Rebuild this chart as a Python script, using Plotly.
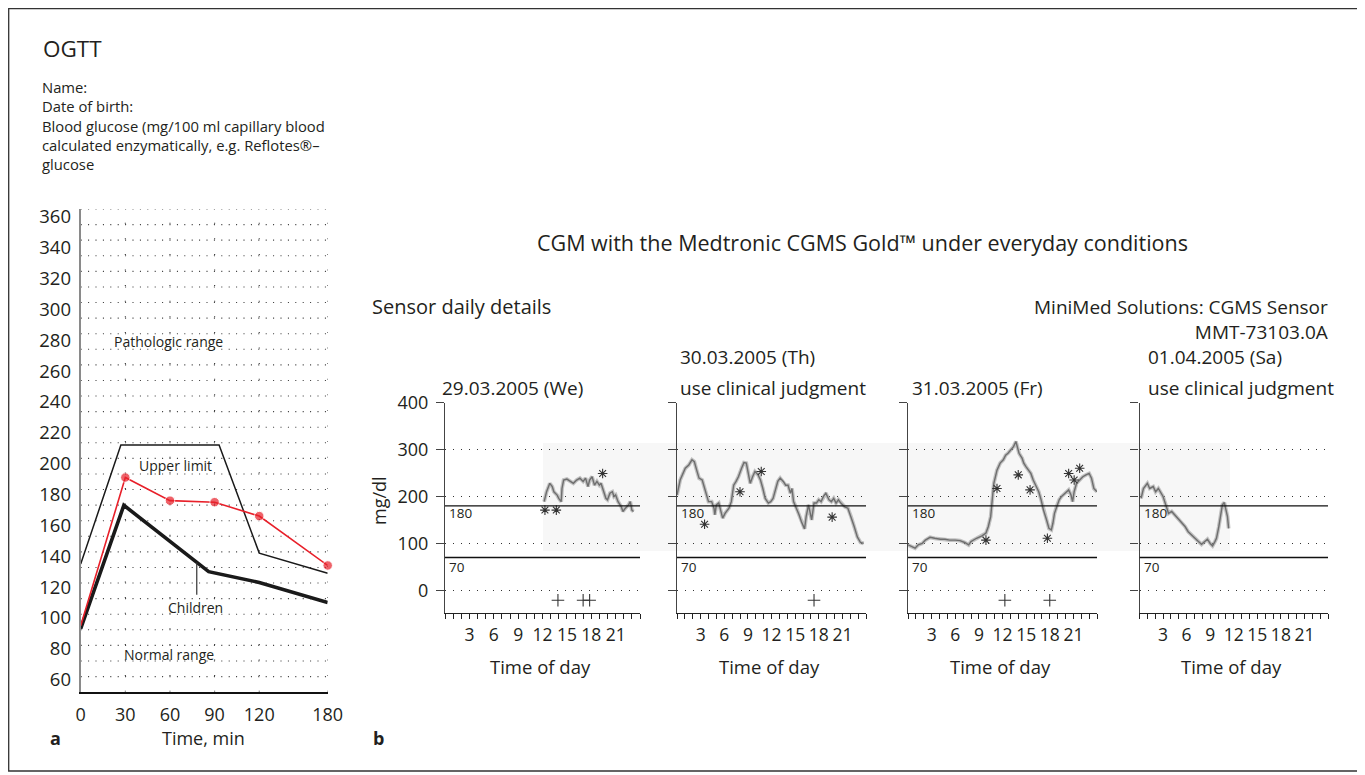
import plotly.graph_objects as go

W, H = 1365, 775
OFF = 8  # page body margin of the rendered html; layout positions compensate for it
FONT = "Open Sans"
TXT = "#231f20"

# ---------------- OGTT (panel a) data ----------------
ogtt_ticks = [0, 30, 60, 90, 120, 180]
glucose_ticks = list(range(60, 361, 20))
patient_time = [0, 30, 60, 90, 120, 180]
patient_glucose = [95, 191, 176, 175, 166, 134]
patient_marker = [0, 9.5, 9.5, 9.5, 9.5, 9.5]
children_time = [0, 29, 86, 120, 180]
children_glucose = [93, 173, 130, 123, 110]
upper_time = [0, 27, 93, 120, 180]
upper_glucose = [135, 212, 212, 142, 129]
pointer_time = [78, 78]
pointer_glucose = [136, 115]

# ---------------- CGM (panel b) data ----------------
day_titles = [["29.03.2005 (We)"],
              ["30.03.2005 (Th)", "use clinical judgment"],
              ["31.03.2005 (Fr)"],
              ["01.04.2005 (Sa)", "use clinical judgment"]]
hour_ticks = [3, 6, 9, 12, 15, 18, 21]
cgm_ticks = [0, 100, 200, 300, 400]
limits = [180, 70]

day1_h = [12.2, 12.5, 12.9, 13.2, 13.4, 13.8, 14.0, 14.3, 14.4, 14.6, 15.0, 15.4, 15.8, 16.2,
          16.6, 17.0, 17.3, 17.6, 17.8, 18.1, 18.4, 18.7, 19.0, 19.2, 19.5, 19.8, 20.0, 20.3,
          20.6, 20.8, 21.0, 21.3, 21.7, 21.9, 22.2, 22.6, 22.8, 23.0, 23.2]
day1_g = [189, 210, 228, 221, 210, 203, 196, 189, 217, 235, 237, 232, 228, 235,
          239, 232, 239, 221, 235, 242, 224, 232, 224, 228, 210, 196, 193, 207,
          210, 200, 203, 189, 178, 168, 175, 182, 189, 171, 168]

day2_h = [0.0, 0.4, 1.05, 1.5, 1.9, 2.2, 2.5, 2.8, 3.2, 3.4, 3.7, 4.0, 4.4, 4.7, 4.8, 5.0,
          5.3, 5.6, 5.8, 6.1, 6.6, 6.9, 7.2, 7.5, 7.8, 8.2, 8.5, 8.8, 9.1, 9.3, 9.6, 9.9,
          10.3, 10.6, 10.9, 11.2, 11.6, 11.9, 12.2, 12.5, 12.8, 13.1, 13.5, 13.8, 14.1,
          14.4, 14.6, 14.8, 15.1, 15.5, 15.8, 16.2, 16.4, 16.7, 17.1, 17.4, 17.7, 18.0,
          18.3, 18.6, 18.9, 19.3, 19.6, 19.9, 20.2, 20.5, 20.8, 21.1, 21.3, 21.7, 22.1,
          22.5, 22.9, 23.3, 23.7]
day2_g = [203, 235, 260, 267, 278, 274, 256, 239, 235, 224, 207, 189, 189, 175, 161, 182,
          186, 168, 154, 164, 175, 189, 224, 232, 242, 260, 272, 271, 249, 228, 242, 253,
          246, 235, 217, 196, 186, 189, 196, 217, 232, 239, 232, 224, 224,
          207, 217, 189, 178, 161, 146, 131, 157, 182, 150, 186, 186, 193,
          189, 200, 207, 193, 189, 196, 186, 193, 186, 182, 178, 175, 157,
          136, 114, 102, 100]

day3_h = [0.0, 0.5, 0.9, 1.3, 1.8, 2.2, 2.8, 3.4, 4.1, 4.7, 5.3, 6.0, 6.6, 7.2, 7.7, 8.0,
          8.7, 9.4, 9.9, 10.2, 10.5, 10.7, 10.9, 11.3, 11.7, 12.1, 12.4, 12.7, 13.1, 13.4,
          13.7, 13.9, 14.1, 14.5, 14.7, 15.0, 15.3, 15.6, 15.9, 16.3, 16.6, 16.9, 17.2,
          17.6, 17.9, 18.2, 18.4, 18.6, 18.9, 19.2, 19.5, 19.9, 20.4, 20.7, 20.9, 21.1,
          21.4, 21.8, 22.2, 22.6, 23.0, 23.3, 23.6, 24.0]
day3_g = [97, 93, 90, 97, 100, 107, 113, 111, 109, 109, 107, 107, 106, 102, 97, 104,
          111, 116, 122, 136, 157, 193, 228, 256, 271, 278, 288, 292, 300, 306,
          317, 303, 292, 281, 271, 263, 256, 249, 235, 221, 210, 193, 171,
          150, 132, 129, 143, 164, 180, 193, 200, 207, 214, 203, 189, 210,
          228, 235, 242, 246, 249, 239, 217, 210]

day4_h = [0.2, 0.5, 1.0, 1.3, 1.75, 2.05, 2.4, 2.7, 3.0, 3.35, 3.7, 4.1, 4.5, 5.0, 5.4, 5.8,
          6.2, 6.6, 7.05, 7.5, 7.9, 8.3, 8.65, 9.0, 9.3, 9.6, 9.8, 10.1, 10.35, 10.55, 10.8,
          11.0, 11.2, 11.35]
day4_g = [196, 217, 228, 217, 221, 210, 217, 207, 200, 182, 164, 168, 161, 150, 143, 136,
          125, 118, 111, 104, 98, 104, 109, 100, 95, 104, 111, 136, 164, 182, 187,
          171, 157, 132]

# event markers: sensor asterisks (*) and meal/insulin (+)
day_star_h = [[12.3, 13.7, 19.4], [3.5, 8.0, 10.7, 19.7],
              [9.9, 11.3, 14.0, 15.5, 17.7, 20.4, 21.1, 21.8], []]
day_star_g = [[171, 171, 249], [141, 210, 253, 156],
              [107, 217, 246, 214, 111, 249, 235, 260], []]
day_plus_h = [[13.9, 17.0, 17.8], [17.4], [12.3, 18.0], []]
day_plus_g = [[-21, -21, -21], [-21], [-21, -21], []]

days_h = [day1_h, day2_h, day3_h, day4_h]
days_g = [day1_g, day2_g, day3_g, day4_g]


def tpos(t):
    # the printed OGTT form compresses the 120-180 min interval
    return t if t <= 120 else 120 + (t - 120) * (46.0 / 60.0)


def px(x):
    return (x - OFF) / W


def py(y):
    return 1 - (y - OFF) / H


fig = go.Figure()
shapes = []
annotations = []

# ---------------- panel a ----------------
A_X0, A_X1, A_Y0, A_Y1 = 80.7, 327.7, 209, 691.7
A_RANGE_X = [0, tpos(180)]
A_RANGE_Y = [52.2, 365]

# dotted grid (form rows every 10 mg/dl)
for k in range(31):
    v = 365 - 10.1 * k
    shapes.append(dict(type="line", xref="x", yref="y", x0=0, x1=tpos(180), y0=v, y1=v,
                       line=dict(color="#333", width=1.1, dash="1px,6.4px"), layer="below"))
for t in ogtt_ticks[1:]:
    shapes.append(dict(type="line", xref="x", yref="y", x0=tpos(t), x1=tpos(t),
                       y0=A_RANGE_Y[0], y1=A_RANGE_Y[1],
                       line=dict(color="#333", width=1.1, dash="1px,14.6px"), layer="below"))

fig.add_trace(go.Scatter(x=[tpos(t) for t in upper_time], y=upper_glucose, mode="lines",
                         line=dict(color="#1a1a1a", width=1.5), cliponaxis=False,
                         xaxis="x", yaxis="y", showlegend=False, hoverinfo="skip"))
fig.add_trace(go.Scatter(x=[tpos(t) for t in children_time], y=children_glucose, mode="lines",
                         line=dict(color="#1a1a1a", width=3.6), cliponaxis=False,
                         xaxis="x", yaxis="y", showlegend=False, hoverinfo="skip"))
fig.add_trace(go.Scatter(x=[tpos(t) for t in pointer_time], y=pointer_glucose, mode="lines",
                         line=dict(color="#333", width=1.2), cliponaxis=False,
                         xaxis="x", yaxis="y", showlegend=False, hoverinfo="skip"))
fig.add_trace(go.Scatter(x=[tpos(t) for t in patient_time], y=patient_glucose, mode="lines+markers",
                         line=dict(color="#e8202a", width=1.6),
                         marker=dict(color="#e8202a", size=patient_marker), cliponaxis=False,
                         xaxis="x", yaxis="y", showlegend=False, hoverinfo="skip"))

# ---------------- panel b ----------------
P_X = [(445, 640), (677, 866), (908, 1097), (1139.5, 1328)]
P_Y0, P_Y1 = 402.5, 612.5
CGM_RANGE = [-47, 400]

# faint shaded scan band
shapes.append(dict(type="rect", xref="paper", yref="paper", x0=px(543), x1=px(1230),
                   y0=py(551), y1=py(443), fillcolor="#f7f7f7", line=dict(width=0), layer="below"))

layout_axes = {}
for i in range(4):
    n = i + 2
    xa, ya = f"x{n}", f"y{n}"
    x0, x1 = P_X[i]
    layout_axes[f"xaxis{n}"] = dict(
        domain=[px(x0), px(x1)], range=[0, 24], anchor=ya, automargin=False,
        tickvals=list(range(0, 25)),
        ticktext=[str(h) if h in hour_ticks else "" for h in range(0, 25)],
        ticks="outside", ticklen=5, tickwidth=1, tickcolor="#222",
        showline=True, linecolor="#222", linewidth=1.2,
        showgrid=False, zeroline=False,
        tickfont=dict(size=17.5, color=TXT, family=FONT), ticklabelstandoff=1)
    layout_axes[f"yaxis{n}"] = dict(
        domain=[py(P_Y1), py(P_Y0)], range=CGM_RANGE, anchor=xa, automargin=False,
        tickvals=cgm_ticks, ticktext=[str(v) for v in cgm_ticks] if i == 0 else [""] * 5,
        ticks="outside", ticklen=8, tickwidth=1, tickcolor="#444",
        showline=True, linecolor="#444", linewidth=1.2,
        showgrid=True, gridcolor="#333", gridwidth=1.1, griddash="1px,7px",
        zeroline=False,
        tickfont=dict(size=18, color=TXT, family=FONT), ticklabelstandoff=4)
    for lim in limits:
        shapes.append(dict(type="line", xref=xa, yref=ya, x0=0, x1=24, y0=lim, y1=lim,
                           line=dict(color="#111", width=1.4)))
    # trace (soft halo + core)
    fig.add_trace(go.Scatter(x=days_h[i], y=days_g[i], mode="lines",
                             line=dict(color="rgba(150,150,150,0.55)", width=3.8),
                             xaxis=xa, yaxis=ya, showlegend=False, hoverinfo="skip"))
    fig.add_trace(go.Scatter(x=days_h[i], y=days_g[i], mode="lines",
                             line=dict(color="#6e6e6e", width=1.4),
                             xaxis=xa, yaxis=ya, showlegend=False, hoverinfo="skip"))
    if day_star_h[i]:
        fig.add_trace(go.Scatter(x=day_star_h[i], y=day_star_g[i], mode="markers",
                                 marker=dict(symbol="asterisk-open", size=8, color="#333",
                                             line=dict(color="#333", width=1.1)),
                                 xaxis=xa, yaxis=ya, showlegend=False, hoverinfo="skip"))
    if day_plus_h[i]:
        fig.add_trace(go.Scatter(x=day_plus_h[i], y=day_plus_g[i], mode="markers",
                                 marker=dict(symbol="cross-thin-open", size=9, color="#333",
                                             line=dict(color="#333", width=1.1)),
                                 xaxis=xa, yaxis=ya, showlegend=False, hoverinfo="skip"))
    # 180 / 70 labels
    for lim, ypix in zip(limits, (512.5, 566.5)):
        annotations.append(dict(xref="paper", yref="paper", x=px(x0 + 2), y=py(ypix),
                                text=str(lim), showarrow=False, xanchor="left", yanchor="middle",
                                font=dict(size=13.5, color=TXT, family=FONT)))
    # day titles
    title_x = [440, 678, 910, 1146][i]
    lines = day_titles[i]
    ys = [388] if len(lines) == 1 else [357, 388]
    for s, yy in zip(lines, ys):
        annotations.append(dict(xref="paper", yref="paper", x=px(title_x), y=py(yy), text=s,
                                showarrow=False, xanchor="left", yanchor="middle",
                                font=dict(size=19, color=TXT, family=FONT)))
    annotations.append(dict(xref="paper", yref="paper", x=px((x0 + x1) / 2 - 2), y=py(666),
                            text="Time of day", showarrow=False, xanchor="center", yanchor="middle",
                            font=dict(size=18.5, color=TXT, family=FONT)))


def txt(x, y, s, size, xanchor="center", bold=False, angle=0, align="center"):
    annotations.append(dict(xref="paper", yref="paper", x=px(x), y=py(y),
                            text=f"<b>{s}</b>" if bold else s, showarrow=False,
                            xanchor=xanchor, yanchor="middle", textangle=angle, align=align,
                            font=dict(size=size, color=TXT, family=FONT)))


# panel a texts
txt(41, 49, "OGTT", 22.5, "left")
info = ["Name:", "Date of birth:", "Blood glucose (mg/100 ml capillary blood",
        "calculated enzymatically, e.g. Reflotes®–", "glucose"]
for s, yy in zip(info, [87, 106, 125.5, 145, 164.5]):
    txt(40, yy, s, 14.8, "left")
txt(168, 341, "Pathologic range", 14)
txt(175, 465, "Upper limit", 14)
txt(195, 607, "Children", 14)
txt(169, 654, "Normal range", 14)
txt(203, 738, "Time, min", 18)
txt(55, 738, "a", 18, bold=True)

# panel b texts
txt(378, 738, "b", 18, bold=True)
txt(862, 242, "CGM with the Medtronic CGMS Gold™ under everyday conditions", 21.5)
txt(370, 307, "Sensor daily details", 20, "left")
txt(1330, 319.5, "MiniMed Solutions: CGMS Sensor<br>MMT-73103.0A", 19, "right", align="right")
txt(379, 500, "mg/dl", 18, angle=-90)

# outer frame (left/top edge at the first visible pixel)
shapes.append(dict(type="rect", xref="paper", yref="paper", x0=0.7 / W, x1=px(1361),
                   y0=py(771), y1=1 - 0.7 / H, line=dict(color="#333", width=1.3)))

fig.update_layout(
    width=W, height=H, margin=dict(l=0, r=0, t=0, b=0, pad=0, autoexpand=False),
    paper_bgcolor="white", plot_bgcolor="rgba(0,0,0,0)",
    font=dict(family=FONT, color=TXT),
    xaxis=dict(domain=[px(A_X0), px(A_X1)], range=A_RANGE_X, anchor="y", automargin=False,
               tickvals=[tpos(t) for t in ogtt_ticks], ticktext=[str(t) for t in ogtt_ticks],
               ticks="", showline=True, linecolor="#111", linewidth=1.5,
               showgrid=False, zeroline=False, ticklabelstandoff=6,
               tickfont=dict(size=18, color=TXT, family=FONT)),
    yaxis=dict(domain=[py(A_Y1), py(A_Y0)], range=A_RANGE_Y, anchor="x", automargin=False,
               tickvals=glucose_ticks, ticktext=[str(v) for v in glucose_ticks],
               ticks="", showline=True, linecolor="#8a8a8a", linewidth=2,
               showgrid=False, zeroline=False, ticklabelstandoff=4,
               tickfont=dict(size=18.5, color=TXT, family=FONT)),
    shapes=shapes, annotations=annotations, showlegend=False,
    **layout_axes,
)

fig.write_html("out.html")
